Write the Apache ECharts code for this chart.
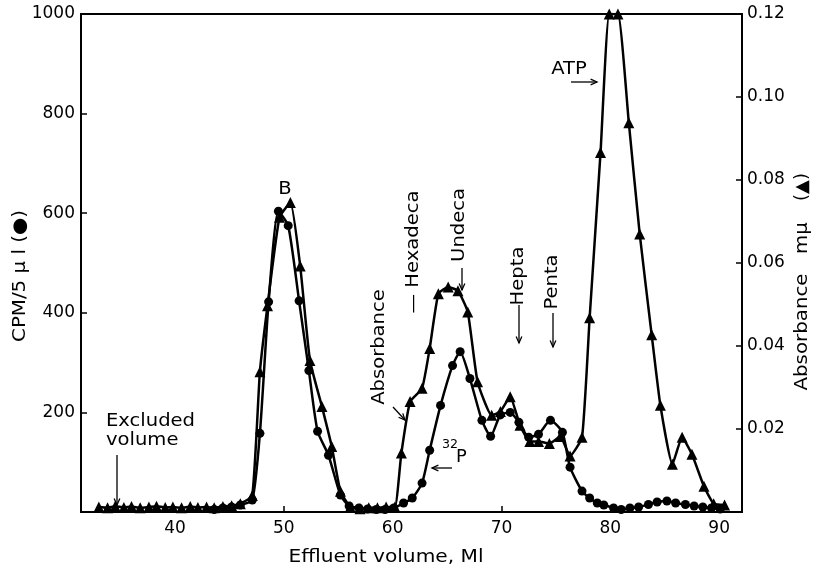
<!DOCTYPE html>
<html><head><meta charset="utf-8">
<script src="https://cdn.jsdelivr.net/npm/echarts@6/dist/echarts.min.js"></script>
<style>html,body{margin:0;padding:0;background:#fff}#c{width:816px;height:574px}</style>
</head><body><div id="c"></div>
<script>
// ---- data ----
const xTicks = [40, 50, 60, 70, 80, 90];
const cpmTicks = [200, 400, 600, 800, 1000];
const absTicks = [0.02, 0.04, 0.06, 0.08, 0.10, 0.12];

// 32P counts (circles, left axis)
const cpmVolume = [43.6,44.4,45.2,46.0,47.1,47.8,48.6,49.5,50.4,51.4,52.3,53.1,54.1,55.2,56.0,56.9,57.7,58.5,59.3,60.1,61.0,61.8,62.7,63.4,64.4,65.5,66.2,67.1,68.2,69.0,69.9,70.8,71.6,72.5,73.4,74.5,75.6,76.3,77.4,78.1,78.8,79.4,80.3,81.0,81.8,82.6,83.5,84.3,85.2,86.0,86.9,87.7,88.5,89.3,90.1];
const cpmValues = [5,8,10,14,24,158,422,604,575,424,284,162,114,34,12,8,6,5,5,8,18,28,58,124,214,294,322,268,184,152,195,200,180,150,156,184,160,90,42,28,18,14,8,5,8,10,15,20,22,18,15,12,10,8,6];

// Absorbance (triangles, right axis)
const absVolume = [33.0,33.8,34.5,35.3,36.0,36.8,37.6,38.3,39.1,39.8,40.6,41.4,42.1,42.9,43.6,44.4,45.2,46.0,47.1,47.8,48.5,49.6,50.6,51.5,52.4,53.5,54.4,55.2,56.1,57.0,57.8,58.6,59.4,60.2,60.8,61.6,62.7,63.4,64.2,65.1,66.0,66.9,67.8,69.1,69.9,70.8,71.7,72.6,73.4,74.4,75.4,76.3,77.4,78.1,79.1,79.9,80.7,81.7,82.7,83.8,84.6,85.7,86.6,87.5,88.6,89.5,90.5];
const absValues = [0.0012,0.0010,0.0014,0.0011,0.0013,0.0010,0.0012,0.0014,0.0011,0.0012,0.0010,0.0013,0.0011,0.0012,0.0010,0.0013,0.0015,0.0020,0.0040,0.0338,0.0497,0.0710,0.0746,0.0593,0.0365,0.0254,0.0158,0.0050,0.0012,0.0008,0.0010,0.0010,0.0012,0.0012,0.0142,0.0266,0.0298,0.0394,0.0526,0.0542,0.0533,0.0482,0.0314,0.0233,0.0242,0.0278,0.0209,0.0170,0.0170,0.0165,0.0182,0.0135,0.0180,0.0468,0.0866,0.1200,0.1200,0.0938,0.0670,0.0427,0.0257,0.0115,0.0180,0.0139,0.0062,0.0020,0.0017];

// ---- chart ----
const FONT = '"DejaVu Sans", sans-serif';
const chart = echarts.init(document.getElementById('c'), null, {renderer: 'canvas'});
const pair = (xs, ys) => xs.map((x, i) => [x, ys[i]]);

function arrow(x1, y1, x2, y2, len) {
  const L = len || 7, a = 0.42, ang = Math.atan2(y2 - y1, x2 - x1);
  return [
    {type: 'line', shape: {x1, y1, x2, y2}, style: {stroke: '#000', lineWidth: 1.3}},
    {type: 'polyline', shape: {points: [
      [x2 - L * Math.cos(ang - a), y2 - L * Math.sin(ang - a)], [x2, y2],
      [x2 - L * Math.cos(ang + a), y2 - L * Math.sin(ang + a)]]},
      style: {stroke: '#000', lineWidth: 1.3, fill: null}}
  ];
}
function txt(text, x, y, opt) {
  opt = opt || {};
  return {type: 'text', x, y, rotation: opt.rot || 0, scaleX: opt.sx || 1.15,
    style: {text, fill: '#000', font: (opt.size || 17) + 'px ' + FONT,
      align: opt.align || 'center', verticalAlign: 'middle'}};
}
const UP = Math.PI / 2;

const graphics = [].concat(
  txt('Effluent volume, Ml', 386, 557, {size: 18, sx: 1.12}),
  txt('CPM/5 μ l (●)', 20, 276, {size: 18, rot: UP, sx: 1.1}),
  txt('Absorbance', 802, 332, {size: 18, rot: UP, sx: 1.1}),
  txt('mμ', 802, 238, {size: 18, rot: UP, sx: 1.1}),
  txt('(▲)', 802, 187, {size: 18, rot: UP, sx: 1.0}),
  txt('Excluded', 106, 422, {align: 'left'}),
  txt('volume', 106, 441, {align: 'left'}),
  arrow(117, 455, 117, 505),
  txt('B', 285, 190),
  txt('Absorbance', 380, 347, {rot: UP}),
  arrow(393, 407, 405, 420),
  txt('— Hexadeca', 414, 252, {rot: UP}),
  txt('Undeca', 460, 225, {rot: UP}),
  arrow(462, 268, 462, 290),
  txt('Hepta', 519, 276, {rot: UP}),
  arrow(519, 305, 519, 343),
  txt('Penta', 553, 282, {rot: UP}),
  arrow(553, 313, 553, 347),
  txt('32', 442, 445, {size: 12, align: 'left', sx: 1.05}),
  txt('P', 456, 458, {align: 'left', sx: 1.05}),
  arrow(452, 468, 432, 468),
  txt('ATP', 569, 70),
  arrow(571, 82, 597, 82)
);

chart.setOption({
  animation: false,
  backgroundColor: '#fff',
  grid: {left: 81, right: 74, top: 14, bottom: 62, show: true, borderColor: '#000', borderWidth: 2, backgroundColor: 'transparent'},
  xAxis: {
    type: 'value', min: 31.36, max: 92.1,
    axisLine: {show: true, lineStyle: {color: '#000', width: 2}},
    axisTick: {show: true, inside: true, length: 6, lineStyle: {color: '#000', width: 1.5}, customValues: xTicks},
    axisLabel: {color: '#000', fontSize: 17, fontFamily: FONT, margin: 8, customValues: xTicks,
      formatter: v => String(v)},
    splitLine: {show: false}
  },
  yAxis: [{
    type: 'value', min: 0, max: 1000, position: 'left',
    axisLine: {show: true, lineStyle: {color: '#000', width: 2}},
    axisTick: {show: true, inside: true, length: 6, lineStyle: {color: '#000', width: 1.5}, customValues: cpmTicks},
    axisLabel: {color: '#000', fontSize: 17, fontFamily: FONT, margin: 6, customValues: cpmTicks,
      formatter: v => String(v)},
    splitLine: {show: false}
  }, {
    type: 'value', min: 0, max: 0.12, position: 'right',
    axisLine: {show: true, lineStyle: {color: '#000', width: 2}},
    axisTick: {show: true, inside: true, length: 6, lineStyle: {color: '#000', width: 1.5}, customValues: absTicks.slice(0, 5)},
    axisLabel: {color: '#000', fontSize: 17, fontFamily: FONT, margin: 5, customValues: absTicks,
      formatter: v => v.toFixed(2)},
    splitLine: {show: false}
  }],
  series: [{
    name: 'CPM', type: 'line', yAxisIndex: 0, data: pair(cpmVolume, cpmValues),
    symbol: 'circle', symbolSize: 9, smooth: 0.2, z: 3,
    lineStyle: {color: '#000', width: 2.5}, itemStyle: {color: '#000'}
  }, {
    name: 'Absorbance', type: 'line', yAxisIndex: 1, data: pair(absVolume, absValues),
    symbol: 'triangle', symbolSize: 11, smooth: 0.15, z: 4,
    lineStyle: {color: '#000', width: 2.5}, itemStyle: {color: '#000'}
  }],
  graphic: {elements: graphics}
});
</script></body></html>
